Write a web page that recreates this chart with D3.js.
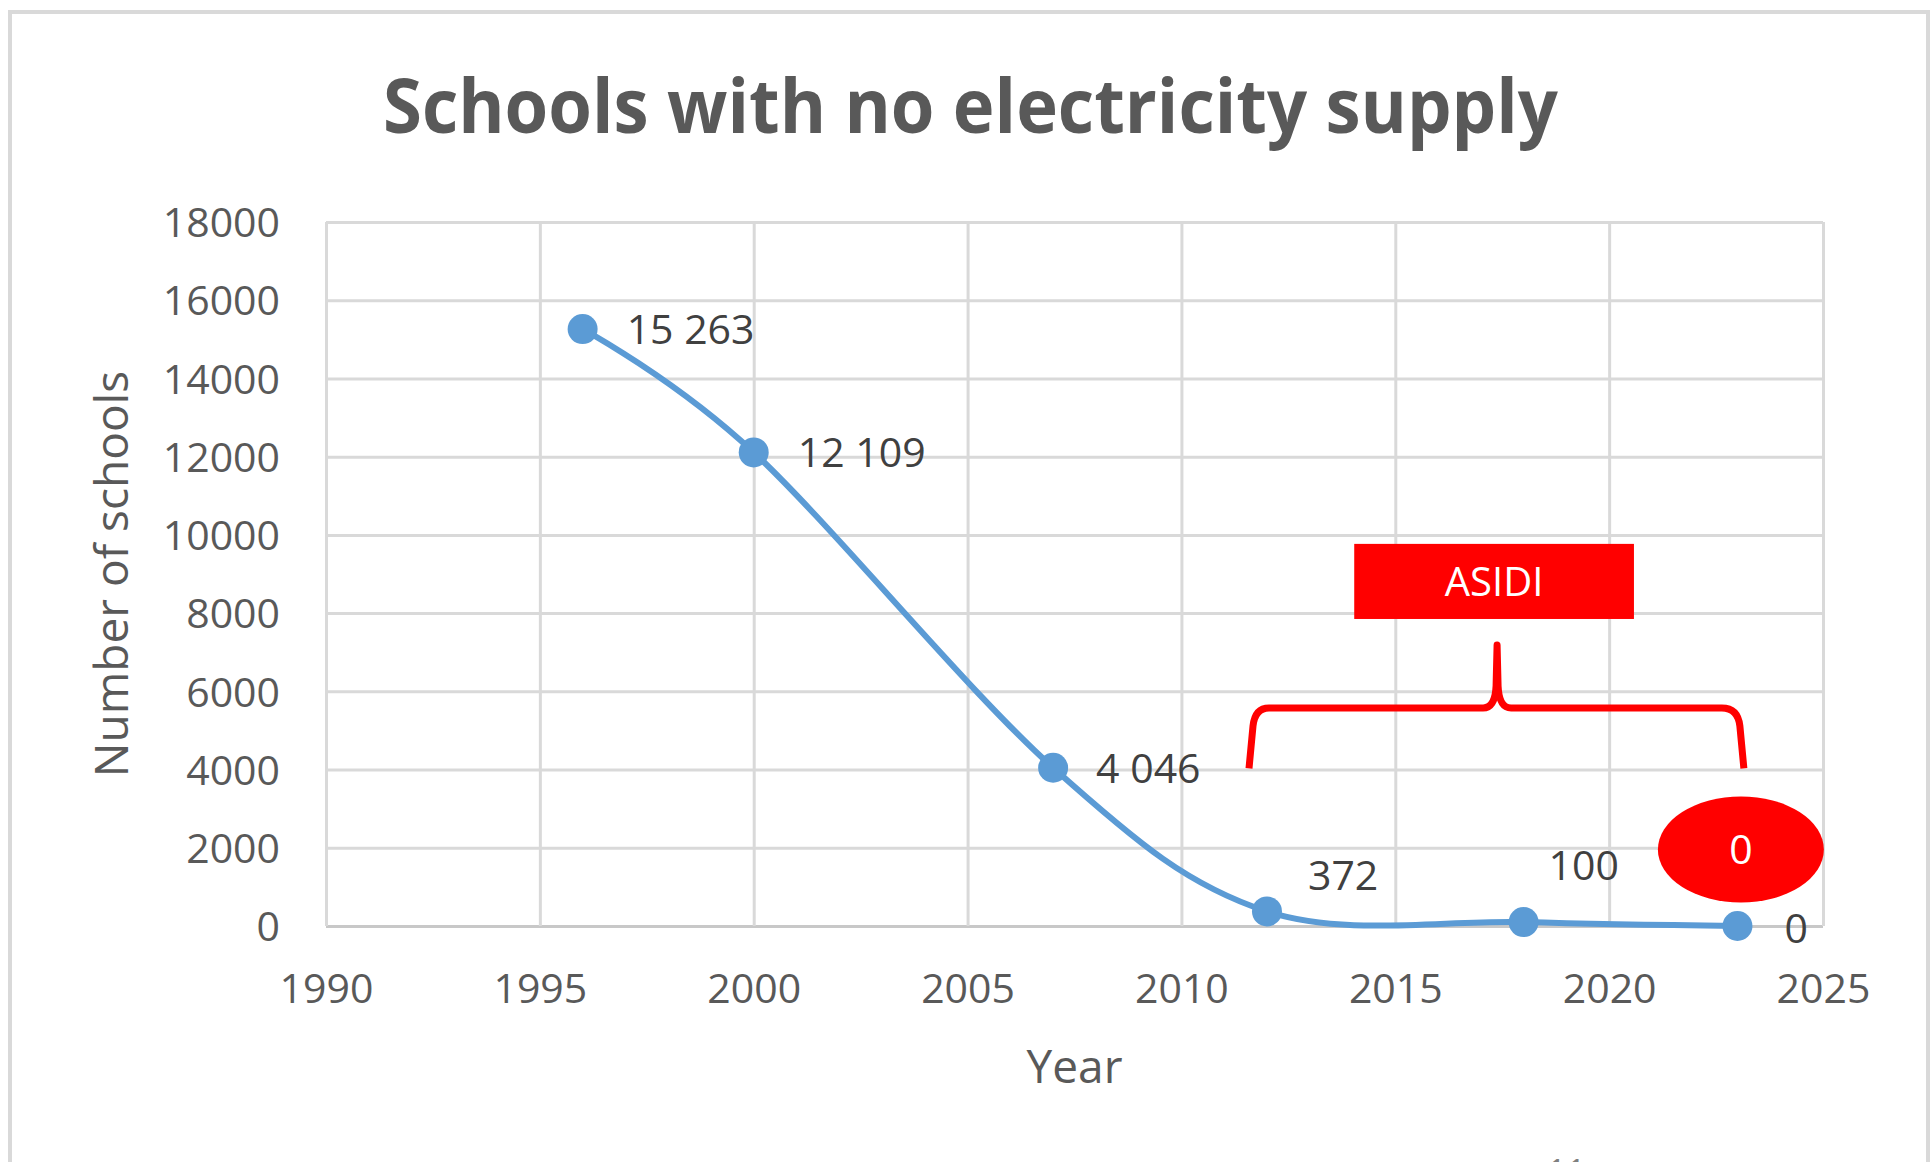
<!DOCTYPE html>
<html>
<head>
<meta charset="utf-8">
<script src="https://cdn.jsdelivr.net/npm/d3@7"></script>
<style>
	html, body { margin: 0; padding: 0; background: #fff; }
	svg { display: block; }
</style>
</head>
<body>
<div id="chart"></div>
<script>
// data
const years = [1996, 2000, 2007, 2012, 2018, 2023];
const schools = [15263, 12109, 4046, 372, 100, 0];
const yearTicks = [1990, 1995, 2000, 2005, 2010, 2015, 2020, 2025];
const schoolTicks = [0, 2000, 4000, 6000, 8000, 10000, 12000, 14000, 16000, 18000];

const titleText = "Schools with no electricity supply";
const xTitle = "Year";
const yTitle = "Number of schools";
const asidiText = "ASIDI";
const bubbleText = "0";

// where the value labels sit relative to their point (px)
const labelOffsets = [[44, 0], [44, 0], [43, 0], [41, -36], [25, -57], [47, 2]];

const width = 1931;
const height = 1162;
const plot = { left: 326, right: 1823, top: 222, bottom: 926 };

const grey = "#595959";
const gridColor = "#D9D9D9";
const blue = "#5B9BD5";
const red = "#FF0000";
const font = "'Open Sans', 'Noto Sans', sans-serif";

const fmt = d3.formatLocale({ decimal: ".", thousands: " ", grouping: [3], currency: ["", ""] }).format(",d");

const x = d3.scaleLinear().domain([1990, 2025]).range([plot.left, plot.right]);
const y = d3.scaleLinear().domain([0, 18000]).range([plot.bottom, plot.top]);

const svg = d3.select("#chart")
	.append("svg")
	.attr("width", width)
	.attr("height", height);

svg.append("rect").attr("width", width).attr("height", height).attr("fill", "#fff");

// chart frame (runs off the bottom of the screenshot)
svg.append("rect")
	.attr("x", 10).attr("y", 12)
	.attr("width", 1918).attr("height", 1250)
	.attr("fill", "#fff")
	.attr("stroke", gridColor)
	.attr("stroke-width", 4);

// title
svg.append("text")
	.attr("x", 383)
	.attr("y", 133)
	.attr("font-family", font)
	.attr("font-weight", 700)
	.attr("font-size", 76)
	.attr("fill", grey)
	.attr("textLength", 1175)
	.attr("lengthAdjust", "spacingAndGlyphs")
	.text(titleText);

// y axis + horizontal grid
const yAxis = svg.append("g")
	.attr("transform", `translate(${plot.left},0)`)
	.call(d3.axisLeft(y).tickValues(schoolTicks).tickSize(-(plot.right - plot.left)).tickPadding(46).tickFormat(d3.format("d")));

// x axis + vertical grid
const xAxis = svg.append("g")
	.attr("transform", `translate(0,${plot.bottom})`)
	.call(d3.axisBottom(x).tickValues(yearTicks).tickSize(-(plot.bottom - plot.top)).tickPadding(48).tickFormat(d3.format("d")));

[yAxis, xAxis].forEach((g) => {
	g.select(".domain").remove();
	g.selectAll(".tick line").attr("stroke", gridColor).attr("stroke-width", 3);
	g.selectAll(".tick text")
		.attr("font-family", font)
		.attr("font-size", 41)
		.attr("fill", grey);
});
yAxis.selectAll(".tick text").attr("dy", "0.36em");
// baseline a touch darker
yAxis.selectAll(".tick line").filter((d) => d === 0).attr("stroke", "#C8C8C8");

// axis titles
svg.append("text")
	.attr("x", (plot.left + plot.right) / 2)
	.attr("y", 1083)
	.attr("text-anchor", "middle")
	.attr("font-family", font)
	.attr("font-size", 46)
	.attr("fill", grey)
	.text(xTitle);

svg.append("text")
	.attr("transform", `translate(128,${(plot.top + plot.bottom) / 2}) rotate(-90)`)
	.attr("text-anchor", "middle")
	.attr("font-family", font)
	.attr("font-size", 46)
	.attr("fill", grey)
	.text(yTitle);

// series
const points = years.map((yr, i) => ({ year: yr, value: schools[i], off: labelOffsets[i] }));

const line = d3.line()
	.x((d) => x(d.year))
	.y((d) => y(d.value))
	.curve(d3.curveCardinal.tension(0));

svg.append("path")
	.datum(points)
	.attr("d", line)
	.attr("fill", "none")
	.attr("stroke", blue)
	.attr("stroke-width", 6)
	.attr("stroke-linecap", "round");

svg.append("g")
	.selectAll("circle")
	.data(points)
	.join("circle")
	.attr("cx", (d) => x(d.year))
	.attr("cy", (d) => y(d.value))
	.attr("r", 15)
	.attr("fill", blue);

svg.append("g")
	.selectAll("text")
	.data(points)
	.join("text")
	.attr("x", (d) => x(d.year) + d.off[0])
	.attr("y", (d) => y(d.value) + d.off[1])
	.attr("dy", "0.36em")
	.attr("font-family", font)
	.attr("font-size", 41)
	.attr("fill", "#404040")
	.text((d) => fmt(d.value));

// ASIDI annotation: box + curly brace over 2012..2023
const asidiBox = { from: 2014.04, to: 2020.58, top: 9770, bottom: 7850 };
const brace = { from: 2011.58, to: 2023.15, mid: 2017.38, bar: 5574, legs: 4030, tip: 7185 };

svg.append("rect")
	.attr("x", x(asidiBox.from))
	.attr("y", y(asidiBox.top))
	.attr("width", x(asidiBox.to) - x(asidiBox.from))
	.attr("height", y(asidiBox.bottom) - y(asidiBox.top))
	.attr("fill", red);

svg.append("text")
	.attr("x", (x(asidiBox.from) + x(asidiBox.to)) / 2)
	.attr("y", (y(asidiBox.top) + y(asidiBox.bottom)) / 2)
	.attr("dy", "0.36em")
	.attr("text-anchor", "middle")
	.attr("font-family", font)
	.attr("font-size", 40)
	.attr("fill", "#fff")
	.text(asidiText);

const bx0 = x(brace.from), bx1 = x(brace.to), bm = x(brace.mid);
const bBar = y(brace.bar), bLeg = y(brace.legs), bTip = y(brace.tip);
const p = d3.path();
p.moveTo(bx0, bLeg);
p.lineTo(bx0 + 4, bBar + 18);
p.quadraticCurveTo(bx0 + 6, bBar, bx0 + 20, bBar);
p.lineTo(bm - 14, bBar);
p.quadraticCurveTo(bm - 2, bBar, bm - 1, bBar - 22);
p.lineTo(bm, bTip);
p.lineTo(bm + 1, bBar - 22);
p.quadraticCurveTo(bm + 2, bBar, bm + 14, bBar);
p.lineTo(bx1 - 22, bBar);
p.quadraticCurveTo(bx1 - 6, bBar, bx1 - 4, bBar + 18);
p.lineTo(bx1, bLeg);

svg.append("path")
	.attr("d", p.toString())
	.attr("fill", "none")
	.attr("stroke", red)
	.attr("stroke-width", 7)
	.attr("stroke-linejoin", "round");

// red "0" bubble by the last point
const bubble = { year: 2023.08, value: 1956 };
svg.append("ellipse")
	.attr("cx", x(bubble.year))
	.attr("cy", y(bubble.value))
	.attr("rx", 83)
	.attr("ry", 53)
	.attr("fill", red);

svg.append("text")
	.attr("x", x(bubble.year))
	.attr("y", y(bubble.value))
	.attr("dy", "0.36em")
	.attr("text-anchor", "middle")
	.attr("font-family", font)
	.attr("font-size", 41)
	.attr("fill", "#fff")
	.text(bubbleText);

// page number peeking in at the bottom edge of the screenshot
svg.append("text")
	.attr("x", 1547)
	.attr("y", 1184)
	.attr("font-family", font)
	.attr("font-size", 34)
	.attr("fill", "#7f7f7f")
	.text("11");
</script>
</body>
</html>
